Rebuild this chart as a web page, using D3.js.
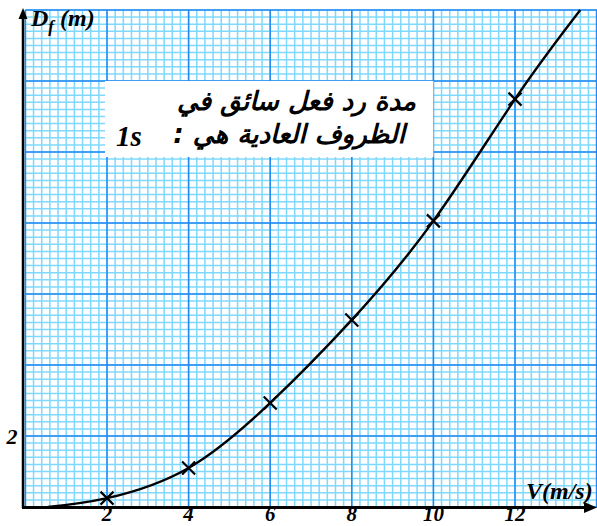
<!DOCTYPE html>
<html>
<head>
<meta charset="utf-8">
<script src="https://cdn.jsdelivr.net/npm/d3@7"></script>
<style>
  html, body { margin: 0; padding: 0; background: #fff; }
  svg { display: block; }
</style>
</head>
<body>
<svg id="chart" width="597" height="526"></svg>
<script>
// Speeds (m/s) and braking distances (m) of the measured points
const speeds = [2, 4, 6, 8, 10, 12];
const distances = [0.25, 1.1, 2.93, 5.27, 8.06, 11.49];

// Hand-drawn smooth curve through the measurements (start and end of the stroke included)
const curveV = [0.55, 2, 4, 6, 8, 10, 12, 13.6];
const curveD = [0, 0.25, 1.1, 2.93, 5.27, 8.06, 11.49, 14.0];

const xTicks = [2, 4, 6, 8, 10, 12];
const yTicks = [2];

const noteLine1 = "مدة رد فعل سائق في";
const noteLine2 = "الظروف العادية هي :";
const noteValue = "1s";

const svg = d3.select("#chart");
const W = 597, H = 526;

const x = d3.scaleLinear().domain([0, 14]).range([25.4, 596.6]);
const y = d3.scaleLinear().domain([0, 14]).range([507, 10]);

const serif = "'Liberation Serif', 'Times New Roman', serif";

// graph paper: fine lines every 0.2, strong lines every 2
const grid = svg.append("g");
const minorX = d3.range(0, 70 + 1).map(i => i * 0.2);
const minorY = d3.range(0, 70 + 1).map(i => i * 0.2);
grid.selectAll("line.vx").data(minorX).join("line")
  .attr("x1", d => x(d)).attr("x2", d => x(d))
  .attr("y1", y(14)).attr("y2", y(0))
  .attr("stroke", "#7fd8fd").attr("stroke-width", 1.5);
grid.selectAll("line.hy").data(minorY).join("line")
  .attr("y1", d => y(d)).attr("y2", d => y(d))
  .attr("x1", x(0)).attr("x2", W)
  .attr("stroke", "#7fd8fd").attr("stroke-width", 1.5);
const majorX = d3.range(0, 8).map(i => i * 2);
const majorY = d3.range(0, 8).map(i => i * 2);
grid.selectAll("line.MX").data(majorX).join("line")
  .attr("x1", d => x(d)).attr("x2", d => x(d))
  .attr("y1", y(14)).attr("y2", y(0))
  .attr("stroke", "#2288f2").attr("stroke-width", 1.5);
grid.selectAll("line.MY").data(majorY).join("line")
  .attr("y1", d => y(d)).attr("y2", d => y(d))
  .attr("x1", x(0)).attr("x2", W)
  .attr("stroke", "#2288f2").attr("stroke-width", 1.5);

// note box
svg.append("rect")
  .attr("x", x(2) - 2).attr("y", y(12))
  .attr("width", x(10) - x(2) + 2).attr("height", y(9.86) - y(12))
  .attr("fill", "#fff");

const arabic = "'DejaVu Sans', sans-serif";
svg.append("text")
  .attr("x", 416).attr("y", 110)
  .attr("direction", "rtl").attr("text-anchor", "start")
  .attr("font-family", arabic).attr("font-weight", "bold").attr("font-style", "italic")
  .attr("font-size", 26).attr("fill", "#000")
  .text(noteLine1);
svg.append("text")
  .attr("x", 405).attr("y", 143)
  .attr("direction", "rtl").attr("text-anchor", "start")
  .attr("font-family", arabic).attr("font-weight", "bold").attr("font-style", "italic")
  .attr("font-size", 26).attr("fill", "#000")
  .text(noteLine2);
svg.append("text")
  .attr("x", 116).attr("y", 146)
  .attr("font-family", serif).attr("font-weight", "bold").attr("font-style", "italic")
  .attr("font-size", 29).attr("fill", "#000")
  .text(noteValue);

// curve
const line = d3.line()
  .x((d, i) => x(curveV[i]))
  .y((d, i) => y(curveD[i]))
  .curve(d3.curveNatural);
svg.append("path")
  .datum(curveV)
  .attr("d", line)
  .attr("fill", "none").attr("stroke", "#000").attr("stroke-width", 2.4);

// measured points as crosses
const s = 6.5;
const pts = svg.append("g").selectAll("g").data(speeds).join("g")
  .attr("transform", (d, i) => `translate(${x(d)},${y(distances[i])})`);
pts.append("path")
  .attr("d", `M${-s},${-s}L${s},${s}M${-s},${s}L${s},${-s}`)
  .attr("stroke", "#000").attr("stroke-width", 2.2);

// axes
svg.append("line").attr("x1", 23).attr("x2", 23).attr("y1", 18).attr("y2", 508)
  .attr("stroke", "#000").attr("stroke-width", 2.5);
svg.append("path").attr("d", "M23,8L18.5,19L27.5,19Z").attr("fill", "#000");
svg.append("line").attr("x1", 22).attr("x2", 586).attr("y1", 507.5).attr("y2", 507.5)
  .attr("stroke", "#000").attr("stroke-width", 3);
svg.append("path").attr("d", "M597,507.5L584,502L584,513Z").attr("fill", "#000");

// tick labels
svg.append("g").selectAll("text").data(xTicks).join("text")
  .attr("x", d => x(d)).attr("y", 521)
  .attr("text-anchor", "middle")
  .attr("font-family", serif).attr("font-weight", "bold").attr("font-style", "italic")
  .attr("font-size", 21).attr("fill", "#000")
  .text(d => d);
svg.append("g").selectAll("text").data(yTicks).join("text")
  .attr("x", 12).attr("y", d => y(d) + 8)
  .attr("text-anchor", "middle")
  .attr("font-family", serif).attr("font-weight", "bold").attr("font-style", "italic")
  .attr("font-size", 22).attr("fill", "#000")
  .text(d => d);

// axis titles
const yt = svg.append("text").attr("x", 31).attr("y", 26)
  .attr("font-family", serif).attr("font-weight", "bold").attr("font-style", "italic")
  .attr("font-size", 24).attr("fill", "#000");
yt.append("tspan").text("D");
yt.append("tspan").attr("font-size", 17).attr("dy", 6).text("f");
yt.append("tspan").attr("dy", -6).text(" (m)");

svg.append("text").attr("x", 526).attr("y", 499)
  .attr("font-family", serif).attr("font-weight", "bold").attr("font-style", "italic")
  .attr("font-size", 24).attr("fill", "#000")
  .text("V(m/s)");
</script>
</body>
</html>
